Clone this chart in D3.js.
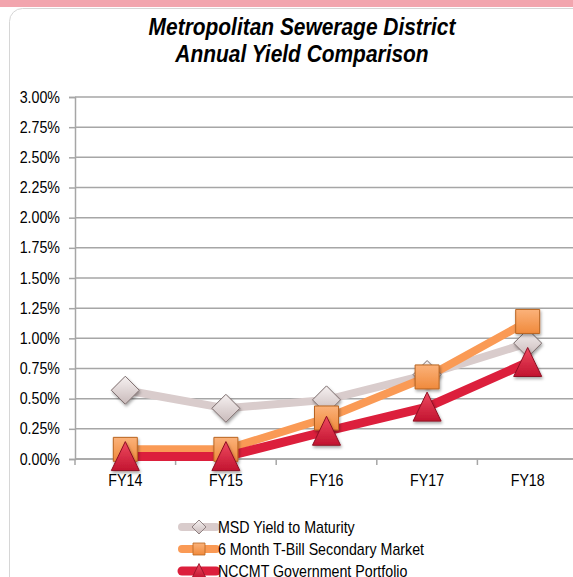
<!DOCTYPE html>
<html><head><meta charset="utf-8">
<script src="https://cdn.jsdelivr.net/npm/d3@7"></script>
<style>
html,body{margin:0;padding:0;background:#fff;overflow:hidden;}
svg{display:block;}
</style></head><body>
<svg id="chart" width="573" height="577"></svg>
<script>
const categories = ["FY14","FY15","FY16","FY17","FY18"];
const msdYield = [0.57, 0.42, 0.49, 0.70, 0.96];
const tBill = [0.08, 0.08, 0.34, 0.68, 1.14];
const nccmt = [0.02, 0.02, 0.23, 0.43, 0.80];
const yTicks = [0,0.25,0.5,0.75,1,1.25,1.5,1.75,2,2.25,2.5,2.75,3];
const seriesNames = ["MSD Yield to Maturity","6 Month T-Bill Secondary Market","NCCMT Government Portfolio"];
const titleLines = ["Metropolitan Sewerage District","Annual Yield Comparison"];

(function(){
const font = "'Liberation Sans','Arial',sans-serif";
const sx = 0.89;
const svg = d3.select("#chart");
const defs = svg.append("defs");

svg.append("rect").attr("x",0).attr("y",0).attr("width",573).attr("height",7).attr("fill","#f2a5ae");
svg.append("rect").attr("x",9.5).attr("y",8.5).attr("width",600).attr("height",620).attr("rx",13)
  .attr("fill","#fff").attr("stroke","#d6d6d6").attr("stroke-width",1);

svg.append("g").selectAll("text").data(titleLines).join("text")
  .attr("transform",(d,i)=>`translate(302,${35+i*27}) scale(0.91,1)`)
  .attr("text-anchor","middle").attr("font-family",font)
  .attr("font-weight","bold").attr("font-style","italic").attr("font-size",23)
  .attr("fill","#000").text(d=>d);

const pL = 75, pR = 578, pT = 97, pB = 459;
const x = d3.scaleBand().domain(categories).range([pL,pR]);
const y = d3.scaleLinear().domain([0,3]).range([pB,pT]);

svg.append("g").selectAll("line").data(yTicks).join("line")
  .attr("x1",pL).attr("x2",573).attr("y1",d=>y(d)).attr("y2",d=>y(d))
  .attr("stroke","#a6a6a6").attr("stroke-width",1.5);

const yAxis = d3.axisLeft(y).tickValues(yTicks).tickFormat(d=>d.toFixed(2)+"%").tickSize(6).tickPadding(9);
const gy = svg.append("g").attr("transform",`translate(${pL},0)`).call(yAxis);
gy.select(".domain").attr("stroke","#a6a6a6").attr("stroke-width",1.5);
gy.selectAll(".tick line").attr("stroke","#a6a6a6").attr("stroke-width",1.5);
gy.selectAll("text").attr("font-family",font).attr("font-size",16).attr("fill","#000")
  .attr("x",-15/sx).attr("transform",`scale(${sx},1)`);

const gx = svg.append("g").attr("transform",`translate(0,${pB})`);
gx.append("line").attr("x1",pL).attr("x2",573).attr("y1",0).attr("y2",0).attr("stroke","#a6a6a6").attr("stroke-width",1.5);
const bounds = categories.map(c=>x(c));
gx.selectAll("line.tk").data(bounds).join("line").attr("class","tk")
  .attr("x1",d=>d).attr("x2",d=>d).attr("y1",0).attr("y2",6).attr("stroke","#a6a6a6").attr("stroke-width",1.5);
gx.selectAll("text").data(categories).join("text")
  .attr("transform",d=>`translate(${x(d)+x.bandwidth()/2},27) scale(${sx},1)`).attr("text-anchor","middle")
  .attr("font-family",font).attr("font-size",16).attr("fill","#000").text(d=>d);

function grad(id, c1, c2){
  const g = defs.append("linearGradient").attr("id",id).attr("x1",0).attr("y1",0).attr("x2",0).attr("y2",1);
  g.append("stop").attr("offset","0%").attr("stop-color",c1);
  g.append("stop").attr("offset","100%").attr("stop-color",c2);
}
grad("gDia","#f6f1f1","#c9baba");
grad("gSq","#fbb27a","#f08a3c");
grad("gTri","#ee4a60","#c21430");
const f = defs.append("filter").attr("id","sh").attr("x","-50%").attr("y","-50%").attr("width","200%").attr("height","200%");
f.append("feDropShadow").attr("dx",1).attr("dy",2).attr("stdDeviation",1.8).attr("flood-color","#000").attr("flood-opacity",0.35);

const series = [
  {name:seriesNames[0], vals:msdYield, color:"#d9cccc", w:8, shape:"dia", fill:"url(#gDia)", stroke:"#7a6b6b"},
  {name:seriesNames[1], vals:tBill, color:"#fa9a55", w:8, shape:"sq", fill:"url(#gSq)", stroke:"#b86420"},
  {name:seriesNames[2], vals:nccmt, color:"#dc1f3c", w:9, shape:"tri", fill:"url(#gTri)", stroke:"#8e1023"}
];

// k = scale factor (1 for plot markers)
function markerPath(shape, k){
  if(shape==="dia") { const r=14*k; return `M0,${-r} L${r},0 L0,${r} L${-r},0 Z`; }
  if(shape==="sq") { const r=12*k; return `M${-r},${-r} H${r} V${r} H${-r} Z`; }
  const t=15*k, b=14*k, h=14*k;
  return `M0,${-t} L${h},${b} L${-h},${b} Z`;
}
const line = d3.line().x((d,i)=>x(categories[i])+x.bandwidth()/2).y(d=>y(d));

series.forEach(s=>{
  svg.append("path").datum(s.vals).attr("d",line).attr("fill","none")
    .attr("stroke",s.color).attr("stroke-width",s.w).attr("stroke-linejoin","round");
});
series.forEach(s=>{
  svg.append("g").selectAll("path").data(s.vals).join("path")
    .attr("transform",(d,i)=>`translate(${x(categories[i])+x.bandwidth()/2},${y(d)})`)
    .attr("d",markerPath(s.shape,1)).attr("fill",s.fill).attr("stroke",s.stroke).attr("stroke-width",1)
    .attr("filter","url(#sh)");
});

const lg = svg.append("g");
series.forEach((s,i)=>{
  const yy = 527 + i*22;
  lg.append("line").attr("x1",182).attr("x2",216).attr("y1",yy).attr("y2",yy)
    .attr("stroke",s.color).attr("stroke-width",s.w).attr("stroke-linecap","round");
  lg.append("path").attr("transform",`translate(199,${yy})`).attr("d",markerPath(s.shape,0.5))
    .attr("fill",s.fill).attr("stroke",s.stroke).attr("stroke-width",0.8);
  lg.append("text").attr("transform",`translate(218,${yy+6}) scale(${sx},1)`).attr("font-family",font).attr("font-size",16)
    .attr("fill","#000").text(s.name);
});
})();
</script>
</body></html>
